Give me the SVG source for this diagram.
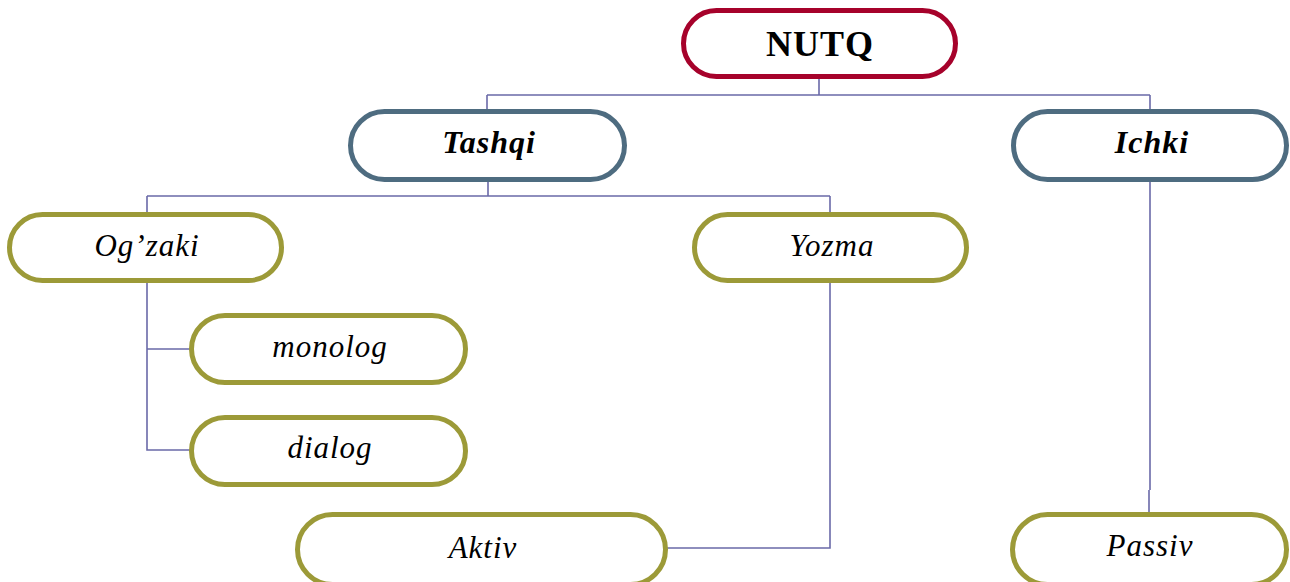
<svg xmlns="http://www.w3.org/2000/svg" width="1290" height="582" viewBox="0 0 1290 582">
<style>
.box{fill:#fff;stroke-width:5}
.red{stroke:#a6022b}
.slate{stroke:#4e6c80}
.olive{stroke:#9c9a38}
.t{font-family:"Liberation Serif","Times New Roman",serif;text-anchor:middle;fill:#000;letter-spacing:1px}
.b{font-weight:bold}
.i{font-style:italic}
.conn{fill:none;stroke:#6a69a8;stroke-width:1.6}
</style>
<rect width="1290" height="582" fill="#fff"/>
<g id="connectors" class="conn">
<path d="M819 79V95M487 95H1150M487 95V110M1150 95V110"/>
<path d="M488 182V196M147 196H830M147 196V212M830 196V212"/>
<path d="M147 282V450H190M147 349H190"/>
<path d="M830 282V548H667"/>
<path d="M1150 182V490M1149 490V513"/>
</g>
<g id="nutq"><rect class="box red" x="683.5" y="10.5" width="272" height="66" rx="33"/><text class="t b" x="820" y="56" font-size="36">NUTQ</text></g>
<g id="tashqi"><rect class="box slate" x="350.5" y="111.5" width="274" height="68" rx="34"/><text class="t b i" x="489" y="153" font-size="32">Tashqi</text></g>
<g id="ichki"><rect class="box slate" x="1013.5" y="111.5" width="273" height="68" rx="34"/><text class="t b i" x="1152" y="153" font-size="32">Ichki</text></g>
<g id="ogzaki"><rect class="box olive" x="9.5" y="214.5" width="272" height="66" rx="33"/><text class="t i" x="147" y="256" font-size="31">Og’zaki</text></g>
<g id="yozma"><rect class="box olive" x="694.5" y="214.5" width="272" height="66" rx="33"/><text class="t i" x="832" y="256" font-size="31">Yozma</text></g>
<g id="monolog"><rect class="box olive" x="191.5" y="315.5" width="274" height="67" rx="33.5"/><text class="t i" x="330" y="357" font-size="31">monolog</text></g>
<g id="dialog"><rect class="box olive" x="191.5" y="417.5" width="274" height="67" rx="33.5"/><text class="t i" x="330" y="458" font-size="31">dialog</text></g>
<g id="aktiv"><rect class="box olive" x="297.5" y="514.5" width="368" height="70" rx="35"/><text class="t i" x="483" y="558" font-size="31">Aktiv</text></g>
<g id="passiv"><rect class="box olive" x="1012.5" y="514.5" width="274" height="70" rx="35"/><text class="t i" x="1150" y="556" font-size="31">Passiv</text></g>
</svg>
